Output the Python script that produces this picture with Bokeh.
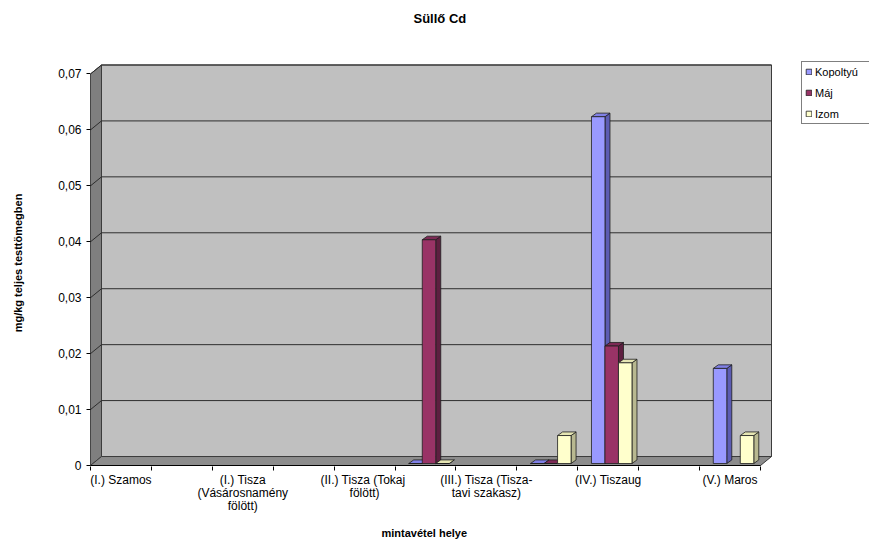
import math

from bokeh.embed import file_html
from bokeh.models import (ColumnDataSource, CustomJSTickFormatter, FixedTicker,
                          Legend, LegendItem, Range1d, Title)
from bokeh.plotting import figure
from bokeh.resources import INLINE

# ---- data -----------------------------------------------------------------
title = "Süllő Cd"
y_label = "mg/kg teljes testtömegben"
x_label = "mintavétel helye"

# sampling places (every other slot carries a printed label)
categories = [
    "(I.) Szamos", "",
    "(I.) Tisza\n(Vásárosnamény\nfölött)", "",
    "(II.)  Tisza (Tokaj\nfölött)", "",
    "(III.) Tisza (Tisza-\ntavi szakasz)", "",
    "(IV.) Tiszaug", "",
    "(V.) Maros",
]
nan = math.nan
series_names = ["Kopoltyú", "Máj", "Izom"]
kopoltyu = [nan, nan, nan, nan, nan, 0.0, nan, 0.0, 0.062, nan, 0.017]
maj = [nan, nan, nan, nan, nan, 0.040, nan, 0.0, 0.021, nan, nan]
izom = [nan, nan, nan, nan, nan, 0.0, nan, 0.005, 0.018, nan, 0.005]
y_ticks = [0.0, 0.01, 0.02, 0.03, 0.04, 0.05, 0.06, 0.07]

front_colors = ["#9999FF", "#993366", "#FFFFCC"]
top_colors = ["#8080E6", "#7D2A55", "#E6E6B4"]
side_colors = ["#5C5CB3", "#5E1F40", "#B8B890"]

# ---- geometry (pixel sizes converted to data units) -------------------------
W, H = 869, 547
F_LEFT, F_TOP, F_BOTTOM = 90, 58, 466
n = len(categories)
XPX = 670.0 / n          # pixels per category
YPX = 392.5 / 0.07       # pixels per mg/kg
y_max = y_ticks[-1]

def ux(px):
    return px / XPX

def uy(px):
    return px / YPX

DX, DY = ux(11), uy(9)               # depth of the walls
BAR_W = ux(13.5)                      # bar width
BX, BY = ux(3.5), uy(2)               # bar front inset from front edge
BDX, BDY = ux(5), uy(3.6)             # bar depth

x0, x1 = 0.5, n + 0.5

p = figure(width=W, height=H, output_backend="svg", toolbar_location=None,
           x_range=Range1d(x0, x0 + ux(W - F_LEFT)),
           y_range=Range1d(-uy(1), uy(F_BOTTOM - 1 - F_TOP)),
           min_border_left=F_LEFT, min_border_right=0,
           min_border_top=F_TOP, min_border_bottom=H - F_BOTTOM)
p.outline_line_color = None
p.background_fill_color = "white"
p.border_fill_color = "white"
p.xgrid.visible = False
p.ygrid.visible = False

# ---- walls and floor --------------------------------------------------------
wall_line = "#3C3C3C"
p.patch([x0 + DX, x1 + DX, x1 + DX, x0 + DX], [DY, DY, y_max + DY, y_max + DY],
        fill_color="#C0C0C0", line_color=wall_line, line_width=1)
p.patch([x0, x0, x0 + DX, x0 + DX], [0, y_max, y_max + DY, DY],
        fill_color="#7F7F7F", line_color=wall_line, line_width=1)
p.patch([x0, x1, x1 + DX, x0 + DX], [0, 0, DY, DY],
        fill_color="#8C8C8C", line_color=wall_line, line_width=1)

# gridlines on back wall and side wall
grid = ColumnDataSource(dict(
    xs=[[x0, x0 + DX, x1 + DX] for t in y_ticks[1:]],
    ys=[[t, t + DY, t + DY] for t in y_ticks[1:]],
))
p.multi_line("xs", "ys", source=grid, line_color="#2E2E2E", line_width=1)

# front axis lines
p.line([x0, x0], [0, y_max], line_color="black", line_width=1)
p.line([x0, x1], [0, 0], line_color="black", line_width=1)

# ---- bars -------------------------------------------------------------------
legend_items = []
for s, (name, values) in enumerate(zip(series_names, [kopoltyu, maj, izom])):
    fronts, sides, tops = ([], []), ([], []), ([], [])
    for i, v in enumerate(values):
        if v is None or (isinstance(v, float) and math.isnan(v)):
            continue
        c = i + 1
        xl = c - 1.5 * BAR_W + s * BAR_W + BX
        xr = xl + BAR_W
        yb, yt = BY, BY + v
        fronts[0].append([xl, xr, xr, xl]); fronts[1].append([yb, yb, yt, yt])
        sides[0].append([xr, xr + BDX, xr + BDX, xr])
        sides[1].append([yb, yb + BDY, yt + BDY, yt])
        tops[0].append([xl, xr, xr + BDX, xl + BDX])
        tops[1].append([yt, yt, yt + BDY, yt + BDY])
    p.patches(sides[0], sides[1], fill_color=side_colors[s], line_color="#1E1E1E", line_width=0.8)
    p.patches(tops[0], tops[1], fill_color=top_colors[s], line_color="#1E1E1E", line_width=0.8)
    r = p.patches(fronts[0], fronts[1], fill_color=front_colors[s], line_color="#1E1E1E", line_width=0.8)
    legend_items.append(LegendItem(label=name, renderers=[r]))

# ---- axes -------------------------------------------------------------------
font = "Liberation Sans"

yax = p.yaxis[0]
yax.ticker = FixedTicker(ticks=y_ticks)
yax.formatter = CustomJSTickFormatter(
    code="return tick == 0 ? '0' : tick.toFixed(2).replace('.', ',');")
yax.axis_line_color = None
yax.major_tick_out = 4
yax.major_tick_in = 0
yax.minor_tick_out = 0
yax.minor_tick_in = 0
yax.major_tick_line_color = "black"
yax.major_label_standoff = 5
yax.major_label_text_font = font
yax.major_label_text_font_size = "12px"
yax.major_label_text_color = "black"
yax.axis_label = y_label
yax.axis_label_text_font = font
yax.axis_label_text_font_style = "bold"
yax.axis_label_text_font_size = "11px"
yax.axis_label_text_color = "black"
yax.axis_label_standoff = 31

xax = p.xaxis[0]
xax.ticker = FixedTicker(ticks=list(range(1, n + 1)),
                         minor_ticks=[k + 0.5 for k in range(0, n + 1)])
xax.formatter = CustomJSTickFormatter(args=dict(labels=categories),
                                      code="return labels[Math.round(tick) - 1];")
xax.axis_line_color = None
xax.major_tick_out = 0
xax.major_tick_in = 0
xax.minor_tick_out = 4
xax.minor_tick_in = 0
xax.minor_tick_line_color = "black"
xax.major_label_standoff = 2
xax.major_label_text_font = font
xax.major_label_text_font_size = "12px"
xax.major_label_text_line_height = 0.95
xax.major_label_text_color = "black"

# x axis title, set under the tick labels
p.add_layout(Title(text=x_label, align="left", offset=291, standoff=16,
                   text_font=font, text_font_size="11px",
                   text_font_style="bold", text_color="black"), "below")

# ---- title (a blank spacer keeps it clear of the plot area) -----------------
p.title.text = ""
p.title.visible = False
p.add_layout(Title(text=" ", text_font_size="13px", standoff=9), "above")
p.add_layout(Title(text=title, align="left", offset=323, standoff=16,
                   text_font=font, text_font_size="13px",
                   text_font_style="bold", text_color="black"), "above")

# ---- legend -----------------------------------------------------------------
legend = Legend(items=legend_items, location=(711, 342),
                glyph_width=7, glyph_height=7, label_height=13, label_width=52,
                spacing=8, padding=3, margin=0, label_standoff=3,
                label_text_font=font, label_text_font_size="11px",
                label_text_color="black",
                border_line_color="black", border_line_width=1,
                background_fill_color="white", background_fill_alpha=1)
p.add_layout(legend, "center")

open("out.html", "w").write(file_html(p, INLINE))
